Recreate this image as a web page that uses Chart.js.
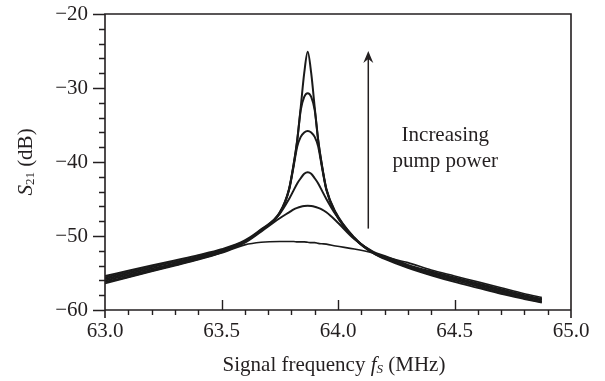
<!DOCTYPE html>
<html>
<head>
<meta charset="utf-8">
<script src="https://cdn.jsdelivr.net/npm/chart.js@4.4.1/dist/chart.umd.min.js"></script>
<style>
  html, body { margin: 0; padding: 0; background: #fff; }
  #s21 { display: block; }
</style>
</head>
<body>
<canvas id="s21" width="605" height="381"></canvas>
<script>
var freq = [63.0, 63.1, 63.2, 63.3, 63.4, 63.5, 63.6, 63.67, 63.75, 63.79, 63.81, 63.825,
            63.84, 63.855, 63.87, 63.885, 63.9, 63.915, 63.93, 63.95, 63.99, 64.07,
            64.15, 64.2, 64.3, 64.4, 64.5, 64.6, 64.7, 64.8, 64.875];

// S21 (dB), highest pump power first
var s21_p6 = [-55.4, -54.7, -54.0, -53.3, -52.6, -51.8, -50.6, -49.1, -46.8, -43.6, -40.2, -37.0,
              -32.6, -28.0, -25.1, -28.0, -32.6, -37.0, -40.2, -43.6, -46.8, -50.2,
              -52.3, -53.1, -54.3, -55.3, -56.2, -57.0, -57.8, -58.5, -59.0];
var s21_p5 = [-55.6, -54.9, -54.2, -53.5, -52.8, -51.9, -50.7, -49.2, -46.9, -43.7, -40.3, -37.1,
              -33.0, -31.2, -30.7, -31.2, -33.0, -37.1, -40.3, -43.7, -46.9, -50.3,
              -52.3, -53.0, -54.2, -55.2, -56.0, -56.8, -57.6, -58.4, -58.9];
var s21_p4 = [-55.8, -55.1, -54.4, -53.7, -52.9, -52.0, -50.8, -49.2, -46.9, -43.8, -40.5, -37.9,
              -36.6, -36.0, -35.8, -36.0, -36.6, -37.9, -40.5, -43.8, -47.0, -50.3,
              -52.2, -52.9, -54.1, -55.0, -55.8, -56.6, -57.4, -58.2, -58.7];
var s21_p3 = [-56.0, -55.3, -54.6, -53.8, -53.0, -52.1, -50.8, -49.3, -47.0, -45.0, -43.8, -42.9,
              -42.2, -41.6, -41.4, -41.6, -42.2, -42.9, -43.8, -45.0, -47.1, -50.3,
              -52.2, -52.8, -54.0, -54.9, -55.7, -56.5, -57.3, -58.1, -58.6];
var s21_p2 = [-56.2, -55.5, -54.7, -53.9, -53.1, -52.2, -50.9, -49.4, -47.6, -46.8, -46.4, -46.2,
              -46.05, -45.95, -45.9, -45.95, -46.05, -46.2, -46.4, -46.8, -47.9, -50.4,
              -52.1, -52.7, -53.9, -54.8, -55.6, -56.4, -57.2, -58.0, -58.5];
var s21_p1 = [-56.4, -55.6, -54.8, -54.0, -53.2, -52.3, -51.2, -50.85, -50.75, -50.75, -50.75, -50.8,
              -50.8, -50.8, -50.85, -50.9, -50.9, -51.0, -51.05, -51.1, -51.35, -51.75,
              -52.3, -52.8, -53.6, -54.6, -55.4, -56.2, -57.0, -57.8, -58.3];

var yTicks = [-60, -50, -40, -30, -20];
var xTicks = [63.0, 63.5, 64.0, 64.5, 65.0];

// annotation arrow (frequency, start dB, end dB)
var arrowFreq = 64.13;
var arrowFrom = -49.0;
var arrowTo = -25.0;

var serif = '"Liberation Serif", "DejaVu Serif", serif';
var ink = '#231f20';

function pts(ys) {
  return freq.map(function(f, i) { return { x: f, y: ys[i] }; });
}

var curves = [s21_p1, s21_p2, s21_p3, s21_p4, s21_p5, s21_p6];
var datasets = curves.map(function(c, i) {
  return {
    data: pts(c),
    borderColor: '#1a1a1a',
    borderWidth: i == 0 ? 1.6 : 2,
    pointRadius: 0,
    fill: false,
    cubicInterpolationMode: 'monotone'
  };
});

// ticks, frame, axis titles and the arrow note
var decor = {
  id: 'decor',
  afterDraw: function(chart) {
    var ctx = chart.ctx;
    var xs = chart.scales.x, ys = chart.scales.y;
    var a = chart.chartArea;
    ctx.save();
    ctx.strokeStyle = ink;
    ctx.lineWidth = 1.6;
    ctx.beginPath();
    ctx.moveTo(a.left, a.bottom + 8);
    ctx.lineTo(a.left, a.top);
    ctx.lineTo(a.right, a.top);
    ctx.lineTo(a.right, a.bottom + 8);
    ctx.moveTo(a.left, a.bottom);
    ctx.lineTo(a.right, a.bottom);
    ctx.stroke();

    ctx.lineWidth = 1.4;
    ctx.beginPath();
    for (var v = -60; v <= -20; v += 2) {
      var py = Math.round(ys.getPixelForValue(v)) + 0.5;
      var len = (v % 10 == 0) ? 12 : 6;
      ctx.moveTo(a.left - len, py);
      ctx.lineTo(a.left, py);
    }
    for (var k = 1; k < 20; k++) {
      var f = 63 + k * 0.1;
      var px = Math.round(xs.getPixelForValue(f)) + 0.5;
      if (k % 5 == 0) {
        ctx.moveTo(px, a.bottom);
        ctx.lineTo(px, a.bottom - 10);
      } else {
        ctx.moveTo(px, a.bottom);
        ctx.lineTo(px, a.bottom + 5);
      }
    }
    ctx.stroke();

    // arrow
    var ax = xs.getPixelForValue(arrowFreq);
    var ay0 = ys.getPixelForValue(arrowFrom);
    var ay1 = ys.getPixelForValue(arrowTo);
    ctx.lineWidth = 1.5;
    ctx.beginPath();
    ctx.moveTo(ax, ay0);
    ctx.lineTo(ax, ay1 + 3);
    ctx.stroke();
    ctx.fillStyle = ink;
    ctx.beginPath();
    ctx.moveTo(ax, ay1);
    ctx.lineTo(ax + 5, ay1 + 12);
    ctx.lineTo(ax, ay1 + 8);
    ctx.lineTo(ax - 5, ay1 + 12);
    ctx.closePath();
    ctx.fill();

    ctx.fillStyle = ink;
    ctx.textBaseline = 'alphabetic';
    ctx.textAlign = 'center';
    ctx.font = '21px ' + serif;
    ctx.fillText('Increasing', ax + 77, 141);
    ctx.fillText('pump power', ax + 77, 167);

    // x title: Signal frequency f_S (MHz)
    drawParts(ctx, [
      { t: 'Signal frequency ', f: '21px ' + serif, dy: 0 },
      { t: 'f', f: 'italic 21px ' + serif, dy: 0 },
      { t: 'S', f: 'italic 13px ' + serif, dy: 5 },
      { t: ' (MHz)', f: '21px ' + serif, dy: 0 }
    ], 334, 365);

    // y title: S_21 (dB), rotated
    ctx.save();
    ctx.translate(26, 162);
    ctx.rotate(-Math.PI / 2);
    drawParts(ctx, [
      { t: 'S', f: 'italic 21px ' + serif, dy: 0 },
      { t: '21', f: '13px ' + serif, dy: 5 },
      { t: ' (dB)', f: '21px ' + serif, dy: 0 }
    ], 0, 0);
    ctx.restore();
    ctx.restore();
  }
};

function drawParts(ctx, parts, cx, cy) {
  var total = 0;
  parts.forEach(function(p) { ctx.font = p.f; p.w = ctx.measureText(p.t).width; total += p.w; });
  var x = cx - total / 2;
  ctx.textAlign = 'left';
  ctx.textBaseline = 'middle';
  parts.forEach(function(p) {
    ctx.font = p.f;
    ctx.fillText(p.t, x, cy + p.dy);
    x += p.w;
  });
}

var config = {
  type: 'line',
  data: { datasets: datasets },
  options: {
    responsive: false,
    animation: false,
    layout: { padding: { left: 0, right: 34, top: 14, bottom: 0 } },
    plugins: { legend: { display: false }, tooltip: { enabled: false } },
    scales: {
      x: {
        type: 'linear',
        min: 63, max: 65,
        afterFit: function(s) { s.height = 71; s.paddingLeft = 0; s.paddingRight = 0; },
        afterBuildTicks: function(s) { s.ticks = xTicks.map(function(v) { return { value: v }; }); },
        grid: { display: false, drawTicks: false },
        border: { display: false },
        ticks: {
          padding: 9,
          color: ink,
          font: { family: serif, size: 21 },
          maxRotation: 0,
          callback: function(v) { return v.toFixed(1); }
        }
      },
      y: {
        type: 'linear',
        min: -60, max: -20,
        afterFit: function(s) { s.width = 105; s.paddingTop = 0; s.paddingBottom = 0; },
        afterBuildTicks: function(s) { s.ticks = yTicks.map(function(v) { return { value: v }; }); },
        grid: { display: false, drawTicks: false },
        border: { display: false },
        ticks: {
          padding: 17,
          color: ink,
          font: { family: serif, size: 21 },
          callback: function(v) { return '\u2212' + Math.abs(v); }
        }
      }
    }
  },
  plugins: [decor]
};

var ctx = document.getElementById('s21').getContext('2d');
new Chart(ctx, config);
</script>
</body>
</html>
